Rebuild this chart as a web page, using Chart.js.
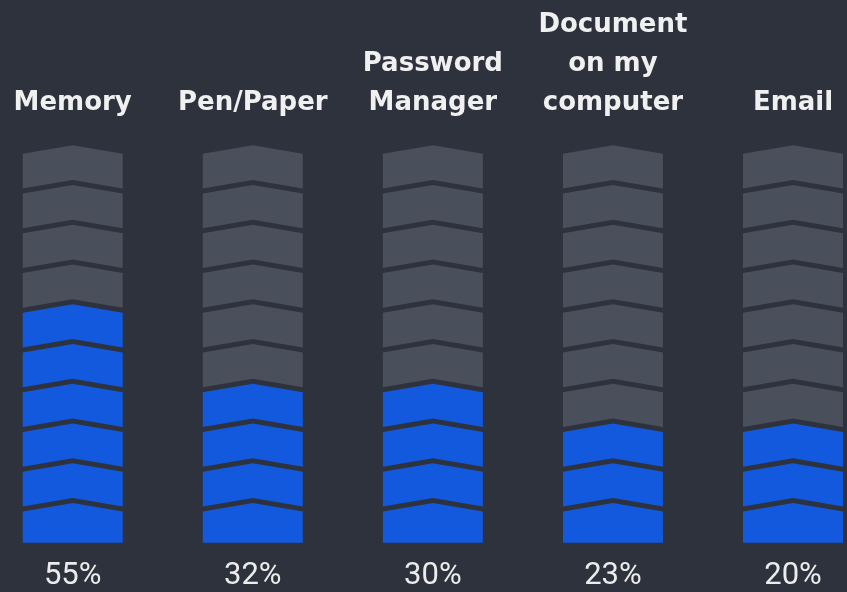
<!DOCTYPE html>
<html>
<head>
<meta charset="utf-8">
<script src="https://cdn.jsdelivr.net/npm/chart.js@4/dist/chart.umd.min.js"></script>
<style>
  html, body { margin: 0; padding: 0; background: #2e323c; }
  #wrap { width: 847px; height: 592px; }
</style>
</head>
<body>
<div id="wrap"><canvas id="myChart"></canvas></div>
<script>
var categories = [['Memory'], ['Pen/Paper'], ['Password', 'Manager'], ['Document', 'on my', 'computer'], ['Email']];
var percents = [55, 32, 30, 23, 20];
var filledSegments = [6, 4, 4, 3, 3];
var segmentCount = 10;

var BLUE = '#1259de';
var GREY = '#4a4f5c';

var percentLabels = percents.map(function (p) { return p + '%'; });

// one dataset per stacked segment, each worth 1
var datasets = [];
for (var s = 0; s < segmentCount; s++) {
    datasets.push({
        label: 'segment ' + (s + 1),
        data: categories.map(function () { return 1; }),
        backgroundColor: filledSegments.map(function (f) { return s < f ? BLUE : GREY; }),
        barThickness: 100,
        xAxisID: 'x'
    });
}

// draw every bar as a chevron instead of a rectangle
var chevronBars = {
    id: 'chevronBars',
    beforeDatasetsDraw: function (chart) {
        var ctx = chart.ctx;
        var depth = 8.5, gap = 5;
        chart.data.datasets.forEach(function (ds, i) {
            chart.getDatasetMeta(i).data.forEach(function (bar, j) {
                var p = bar.getProps(['x', 'y', 'base', 'width'], true);
                var l = p.x - p.width / 2, r = p.x + p.width / 2;
                ctx.save();
                ctx.fillStyle = ds.backgroundColor[j];
                ctx.beginPath();
                ctx.moveTo(l, p.y + depth);
                ctx.lineTo(p.x, p.y);
                ctx.lineTo(r, p.y + depth);
                if (i === 0) {
                    ctx.lineTo(r, p.base);
                    ctx.lineTo(l, p.base);
                } else {
                    ctx.lineTo(r, p.base + depth - gap);
                    ctx.lineTo(p.x, p.base - gap);
                    ctx.lineTo(l, p.base + depth - gap);
                }
                ctx.closePath();
                ctx.fill();
                ctx.restore();
            });
        });
        return false;
    }
};

// labels sit over the first/last columns, they should not push the chart area in
function noSidePadding(scale) {
    scale.paddingLeft = 0;
    scale.paddingRight = 0;
}

var ctx = document.getElementById('myChart').getContext('2d');
var myChart = new Chart(ctx, {
    type: 'bar',
    data: {
        labels: categories,
        datasets: datasets
    },
    options: {
        responsive: true,
        maintainAspectRatio: false,
        animation: false,
        layout: {
            padding: { top: -17, left: 72.7, right: 54, bottom: -18 }
        },
        plugins: {
            legend: { display: false },
            tooltip: { enabled: false }
        },
        scales: {
            x: {
                position: 'top',
                stacked: true,
                offset: false,
                afterFit: noSidePadding,
                grid: { display: false, drawTicks: false },
                border: { display: false },
                ticks: {
                    color: '#f0f0f0',
                    padding: 23,
                    maxRotation: 0,
                    autoSkip: false,
                    font: { family: 'DejaVu Sans', weight: 'bold', size: 26, lineHeight: 1.49 }
                }
            },
            x2: {
                type: 'category',
                labels: percentLabels,
                position: 'bottom',
                offset: false,
                afterFit: noSidePadding,
                grid: { display: false, drawTicks: false },
                border: { display: false },
                ticks: {
                    color: '#ececec',
                    padding: 15,
                    maxRotation: 0,
                    autoSkip: false,
                    font: { family: 'Roboto', size: 31, lineHeight: 1.2 }
                }
            },
            y: {
                stacked: true,
                display: false,
                min: 0,
                max: segmentCount
            }
        }
    },
    plugins: [chevronBars]
});
</script>
</body>
</html>
